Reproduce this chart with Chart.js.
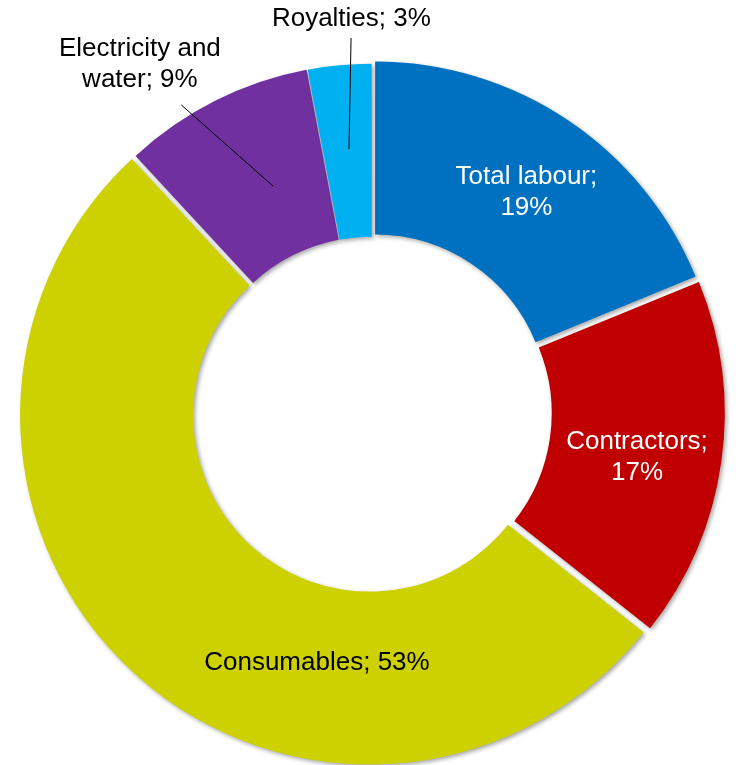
<!DOCTYPE html>
<html>
<head>
<meta charset="utf-8">
<script src="https://cdn.jsdelivr.net/npm/chart.js@4.4.1/dist/chart.umd.min.js"></script>
<style>
	html, body { margin: 0; padding: 0; overflow: hidden; background: #fff; }
	#wrap { position: relative; width: 739px; height: 825px; }
</style>
</head>
<body>
<div id="wrap"><canvas id="myChart"></canvas></div>
<script>
const categories = ['Total labour', 'Contractors', 'Consumables', 'Electricity and water', 'Royalties']
const shares = [19, 17, 53, 9, 3]
const sliceColors = ['#0070C0', '#C00000', '#CDD100', '#7030A0', '#00B0F0']
const textColors = ['#fff', '#fff', '#000', '#000', '#000']
const explode = [22, 24, 14, 8, 6]

// where each label sits: angle from 12 o'clock (deg), distance as share of outer radius
const labelAngle = [35.0, 99.7, 192.4, 326.3, 357.0]
const labelDist = [0.778, 0.777, 0.741, 1.209, 1.139]
const wrapWidth = [170, 170, 400, 180, 400]
// leader lines for labels outside the ring: [angle, dist] start and end
const leaders = {
	3: [[328.2, 1.046], [336.4, 0.714]],
	4: [[356.8, 1.084], [355.0, 0.764]],
}

function polar(arc, ang, dist) {
	const a = (ang - 90) * Math.PI / 180
	return [arc.x + Math.cos(a) * arc.outerRadius * dist, arc.y + Math.sin(a) * arc.outerRadius * dist]
}

function wrapText(ctx, text, maxW) {
	const words = text.split(' ')
	const lines = []
	let cur = ''
	words.forEach(w => {
		const test = cur ? cur + ' ' + w : w
		if (cur && ctx.measureText(test).width > maxW) {
			lines.push(cur)
			cur = w
		} else {
			cur = test
		}
	})
	if (cur) lines.push(cur)
	return lines
}

const shadowPlugin = {
	id: 'shadow',
	beforeDatasetsDraw(chart) {
		const ctx = chart.ctx
		ctx.save()
		ctx.shadowColor = 'rgba(0,0,0,0.35)'
		ctx.shadowBlur = 4
		ctx.shadowOffsetX = 2
		ctx.shadowOffsetY = 2
	},
	afterDatasetsDraw(chart) {
		chart.ctx.restore()
	}
}

const labelPlugin = {
	id: 'sliceLabels',
	afterDraw(chart) {
		const ctx = chart.ctx
		const arcs = chart.getDatasetMeta(0).data
		ctx.save()
		ctx.font = '26px "Liberation Sans", Arial, sans-serif'
		ctx.textAlign = 'center'
		ctx.textBaseline = 'middle'
		arcs.forEach((arc, i) => {
			const lead = leaders[i]
			if (lead) {
				const p1 = polar(arc, lead[0][0], lead[0][1])
				const p2 = polar(arc, lead[1][0], lead[1][1])
				ctx.strokeStyle = '#000'
				ctx.lineWidth = 1
				ctx.beginPath()
				ctx.moveTo(p1[0], p1[1])
				ctx.lineTo(p2[0], p2[1])
				ctx.stroke()
			}
			const text = categories[i] + '; ' + shares[i] + '%'
			const lines = wrapText(ctx, text, wrapWidth[i])
			const [x, y] = polar(arc, labelAngle[i], labelDist[i])
			const lh = 31
			ctx.fillStyle = textColors[i]
			lines.forEach((ln, k) => {
				ctx.fillText(ln, x, y + (k - (lines.length - 1) / 2) * lh)
			})
		})
		ctx.restore()
	}
}

const context = document.getElementById('myChart')
const data = {
	labels: categories,
	datasets: [
		{
			data: shares,
			backgroundColor: sliceColors,
			borderWidth: 0,
			offset: explode,
			hoverOffset: 0,
		}
	]
}
const config = {
	type: 'doughnut',
	data: data,
	options: {
		responsive: true,
		maintainAspectRatio: false,
		animation: false,
		events: [],
		cutout: '50%',
		layout: { padding: { left: 14, right: 9, top: 0, bottom: 0 } },
		plugins: {
			legend: { display: false },
			tooltip: { enabled: false },
		},
	},
	plugins: [shadowPlugin, labelPlugin],
}
const myChart = new Chart(context, config)
</script>
</body>
</html>
